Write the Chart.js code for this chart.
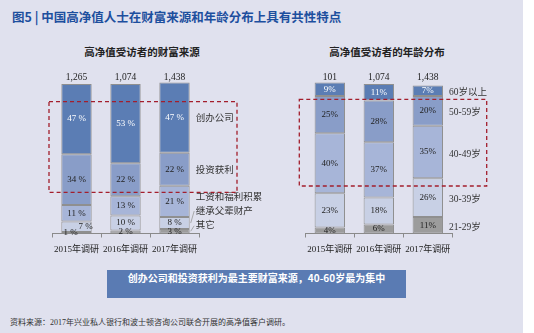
<!DOCTYPE html>
<html>
<head>
<meta charset="utf-8">
<script src="https://cdn.jsdelivr.net/npm/chart.js@4/dist/chart.umd.min.js"></script>
<style>
  html, body { margin:0; padding:0; background:#ffffff; width:534px; height:333px; overflow:hidden; }
  #bg { position:absolute; left:0; top:0; width:523px; height:333px; background:#e0e1ee; }
  .abs { position:absolute; }
  #title { left:12px; top:7px; font:bold 12.5px "Noto Sans CJK SC", sans-serif; color:#1d4f9e; white-space:nowrap; }
  .sub { top:44px; width:200px; text-align:center; font:bold 10.5px "Noto Sans CJK SC", sans-serif; color:#222; white-space:nowrap; }
  #banner { left:107px; top:270px; width:299px; height:28px; line-height:28px; background:#5a7bb3; color:#fff; text-align:center; font:bold 10px "Noto Sans CJK SC", "Liberation Sans", sans-serif; white-space:nowrap; }
  #source { left:10px; top:316px; font:8px "Liberation Serif", "Noto Sans CJK SC", serif; color:#333; white-space:nowrap; }
  canvas { position:absolute; top:0; }
  #overlay { position:absolute; left:0; top:0; z-index:5; pointer-events:none; }
</style>
</head>
<body>
<div id="bg"></div>
<div id="title" class="abs">图5 | 中国高净值人士在财富来源和年龄分布上具有共性特点</div>
<div class="abs sub" style="left:42px;">高净值受访者的财富来源</div>
<div class="abs sub" style="left:287px;">高净值受访者的年龄分布</div>
<canvas id="c1" width="267" height="270" style="left:0;width:267px;height:270px;"></canvas>
<canvas id="c2" width="267" height="270" style="left:267px;width:267px;height:270px;"></canvas>
<svg id="overlay" width="534" height="333">
  <rect x="49" y="101.7" width="188" height="90.6" fill="none" stroke="#a31e2c" stroke-width="1.3" stroke-dasharray="4 3"/>
  <rect x="299.3" y="99.3" width="187.4" height="86.7" fill="none" stroke="#a31e2c" stroke-width="1.3" stroke-dasharray="4 3"/>
</svg>
<div id="banner" class="abs">创办公司和投资获利为最主要财富来源，40-60岁最为集中</div>
<div id="source" class="abs">资料来源：2017年兴业私人银行和波士顿咨询公司联合开展的高净值客户调研。</div>
<script>
// ---------- data ----------
const categories = ['2015年调研', '2016年调研', '2017年调研'];

const wealthTotals = ['1,265', '1,074', '1,438'];
const wealthNames = ['其它', '继承父辈财产', '工资和福利积累', '投资获利', '创办公司'];
const srcOther   = [1, 2, 3];
const srcInherit = [7, 10, 8];
const srcSalary  = [11, 13, 21];
const srcInvest  = [34, 22, 22];
const srcStartup = [47, 53, 47];

const ageTotals = ['101', '1,074', '1,438'];
const ageNames = ['21-29岁', '30-39岁', '40-49岁', '50-59岁', '60岁以上'];
const age21 = [4, 6, 11];
const age30 = [23, 18, 26];
const age40 = [40, 37, 35];
const age50 = [25, 28, 20];
const age60 = [9, 11, 7];

// ---------- styles ----------
const segColors = ['#9c9c9c', '#c8d0e5', '#a7b5d8', '#899dc8', '#5b7db4'];
const segText   = ['#222', '#222', '#222', '#222', '#ffffff'];
const FONT = '"Liberation Serif", "Noto Sans CJK SC", serif';

const segLabels = {
  id: 'segLabels',
  afterDatasetsDraw(chart, args, opts) {
    const ctx = chart.ctx;
    const dsets = chart.data.datasets;
    ctx.save();
    ctx.textAlign = 'center';
    ctx.textBaseline = 'middle';
    ctx.font = '9px ' + FONT;
    dsets.forEach((ds, di) => {
      const meta = chart.getDatasetMeta(di);
      meta.data.forEach((bar, i) => {
        const v = ds.data[i];
        const p = bar.getProps(['x', 'y', 'base'], true);
        let cx = p.x, cy = (p.y + p.base) / 2;
        if (opts.shiftSmall) {
          if (v < 2) cx -= 6;
          else if (di === 1 && dsets[0].data[i] < 2) cx += 9;
        }
        ctx.fillStyle = segText[di];
        ctx.fillText(v + opts.suffix, cx, cy);
      });
    });
    // totals above bars
    const topMeta = chart.getDatasetMeta(dsets.length - 1);
    ctx.fillStyle = '#222';
    ctx.font = '9.5px ' + FONT;
    topMeta.data.forEach((bar, i) => {
      ctx.fillText(opts.totals[i], bar.x, chart.chartArea.top - 7);
    });
    // series names on right side of last bar
    ctx.textAlign = 'left';
    ctx.font = '9.5px ' + FONT;
    ctx.fillStyle = '#333';
    ctx.strokeStyle = '#999';
    ctx.lineWidth = 0.8;
    const last = categories.length - 1;
    dsets.forEach((ds, di) => {
      const bar = chart.getDatasetMeta(di).data[last];
      const p = bar.getProps(['x', 'y', 'base', 'width'], true);
      const right = p.x + p.width / 2;
      const cy = (p.y + p.base) / 2;
      const ly = cy + opts.nameDy[di];
      ctx.fillText(ds.label, right + 6, ly);
      if (opts.leader[di]) {
        ctx.beginPath();
        ctx.moveTo(right + 4.5, ly);
        ctx.lineTo(right + 1, cy);
        ctx.stroke();
      }
    });
    ctx.restore();
  }
};

function makeChart(id, names, series, padding, suffix, totals, nameDy, leader, shiftSmall) {
  return new Chart(document.getElementById(id), {
    type: 'bar',
    data: {
      labels: categories,
      datasets: series.map((d, k) => ({
        label: names[k],
        data: d,
        backgroundColor: segColors[k],
        borderColor: '#8f8f8f',
        borderWidth: 1,
        borderSkipped: false,
        barPercentage: 0.62,
        categoryPercentage: 1,
        clip: false
      }))
    },
    options: {
      responsive: false,
      animation: false,
      events: [],
      layout: { padding: padding },
      plugins: {
        legend: { display: false },
        tooltip: { enabled: false },
        segLabels: { suffix: suffix, totals: totals, nameDy: nameDy, leader: leader, shiftSmall: shiftSmall }
      },
      scales: {
        x: {
          stacked: true,
          offset: true,
          afterFit: (s) => { s.height = 26; },
          grid: { display: true, offset: true, drawOnChartArea: false, drawTicks: true, tickLength: 4, color: '#8a8a8a', lineWidth: 1 },
          border: { display: true, color: '#8a8a8a', width: 1 },
          ticks: { color: '#222', font: { family: FONT, size: 9 }, padding: 7, maxRotation: 0, autoSkip: false }
        },
        y: { stacked: true, display: false, min: 0, max: 100 }
      }
    },
    plugins: [segLabels]
  });
}

makeChart('c1', wealthNames,
  [srcOther, srcInherit, srcSalary, srcInvest, srcStartup],
  { left: 52, right: 68, top: 84, bottom: 10.5 },
  ' %', wealthTotals,
  [-5.5, -12, -3.5, 1.5, 1],
  [true, true, false, false, false],
  true);

makeChart('c2', ageNames,
  [age21, age30, age40, age50, age60],
  { left: 38.3, right: 81.7, top: 84, bottom: 10.5 },
  '%', ageTotals,
  [2, 2, 2, 2, 2],
  [false, false, false, false, false],
  false);
</script>
</body>
</html>
